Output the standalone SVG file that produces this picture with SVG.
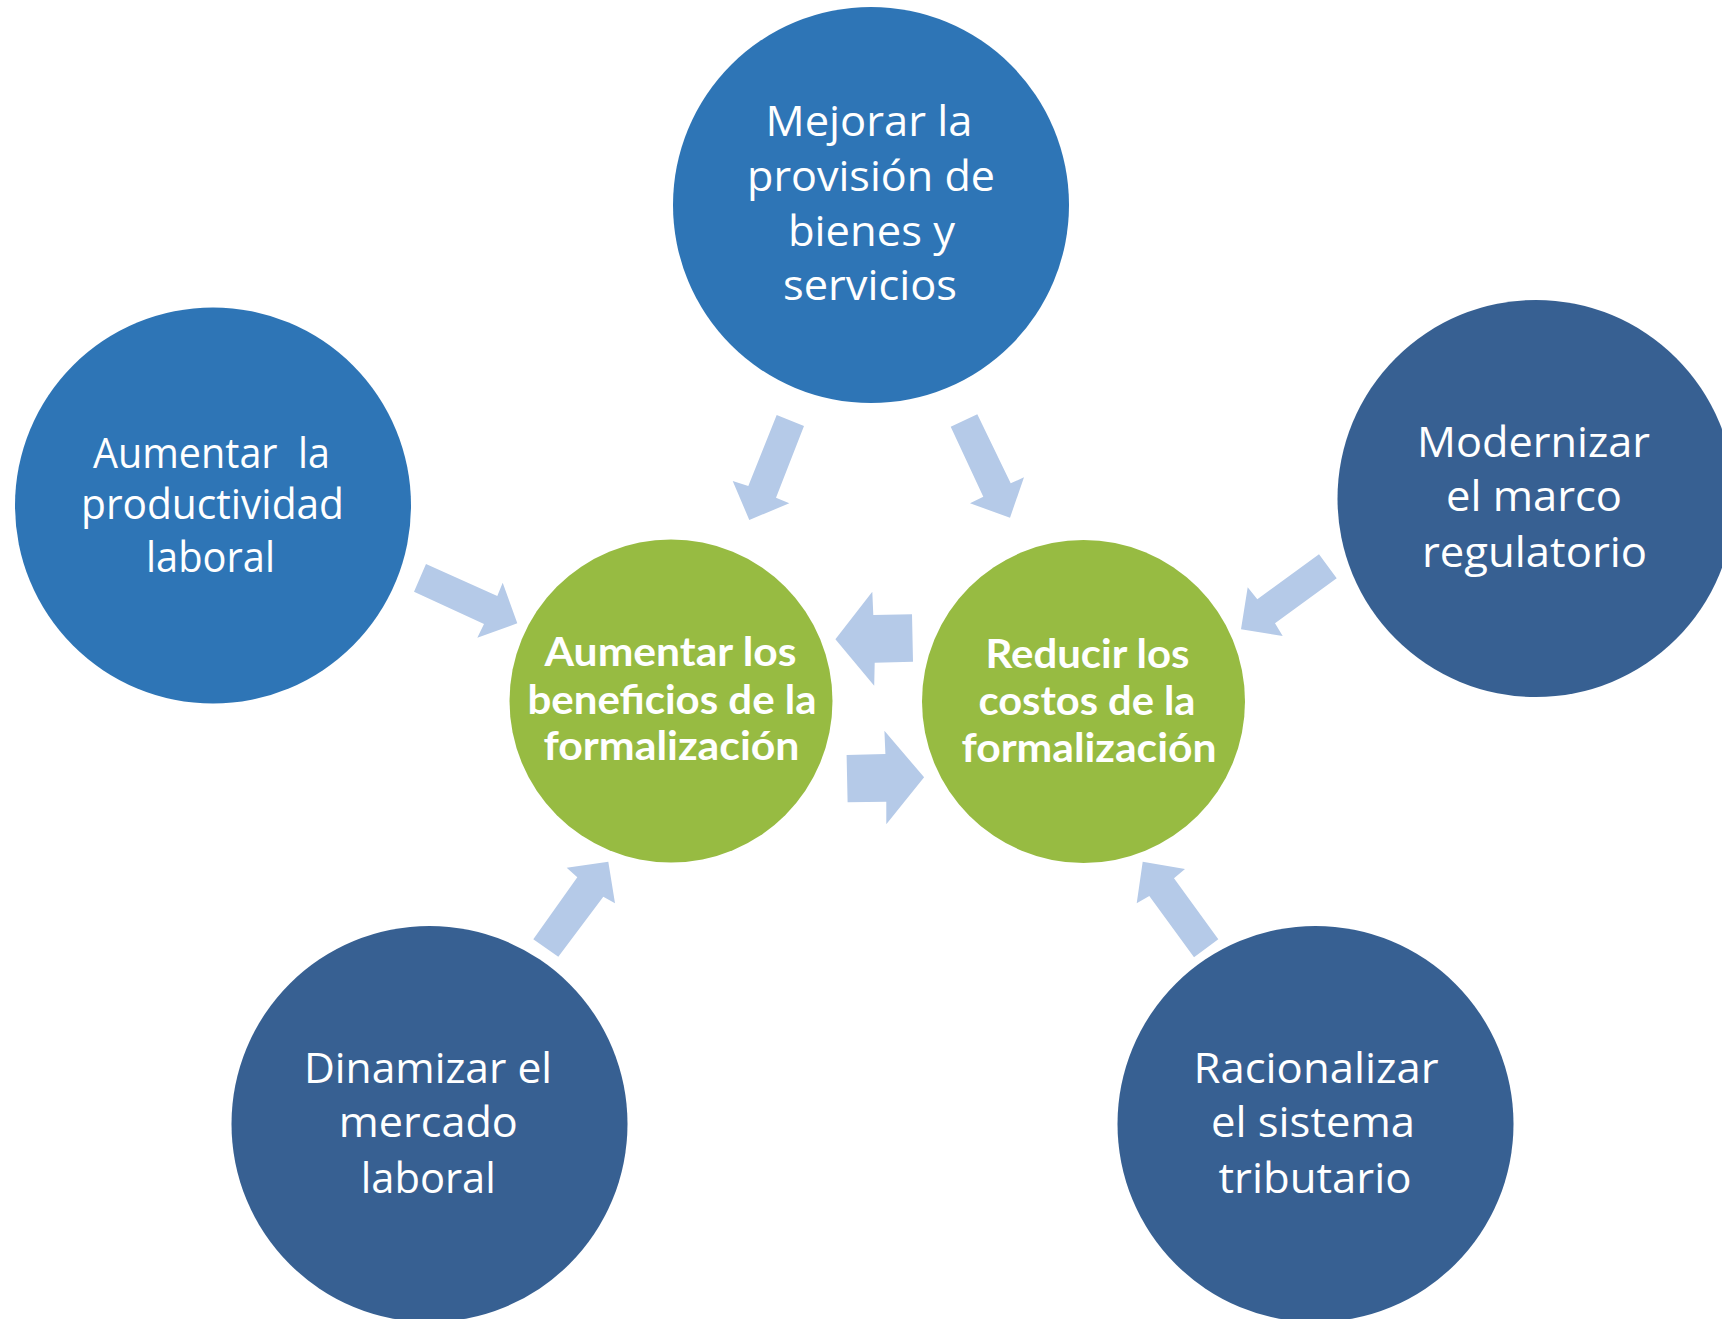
<svg xmlns="http://www.w3.org/2000/svg" width="1722" height="1319" viewBox="0 0 1722 1319">
<style>
.bg{fill:#ffffff}
.blue{fill:#2E75B6}
.dark{fill:#376092}
.green{fill:#97BB42}
.arrow{fill:#B5CAE8}
.t{font-family:"Open Sans","Liberation Sans",sans-serif;font-size:42px;fill:#ffffff;text-anchor:middle}
.b{font-family:Lato,"Liberation Sans",sans-serif;font-weight:bold;font-size:41px;fill:#ffffff;text-anchor:middle}
</style>
<rect class="bg" x="0" y="0" width="1722" height="1319"/>
<g id="connectors">
<polygon class="arrow" points="776.7,415 804,426 776,497.7 789.3,503.3 749.3,520 732.7,481 748.3,486"/>
<polygon class="arrow" points="950.7,426.7 977.3,414.3 1010.7,483.3 1024,477.3 1010,517.7 970,503.3 983.3,496.7"/>
<polygon class="arrow" points="426,564 414,591.7 484,624 477.3,637.7 517.3,623.3 502.7,582.7 497.3,596"/>
<polygon class="arrow" points="1319,554.3 1336.7,578.3 1275,623.3 1282.7,636 1241,629.3 1247.7,587.3 1257.3,599.3"/>
<polygon class="arrow" points="533.3,939.3 558.3,956.7 603.3,896.7 615,903.3 608.3,861.7 566.7,867.7 577.3,877.3"/>
<polygon class="arrow" points="1218.3,939.3 1194,957.3 1149.3,896 1136.7,903.3 1142.7,861.7 1185,869 1174,878.3"/>
<polygon class="arrow" points="835.4,639.3 872.3,591.7 873.3,615 912,614.3 913,661.7 874.7,662.7 874.2,685.7"/>
<polygon class="arrow" points="846.6,755 885.4,754 884.4,730.7 924.1,777.3 886.3,824.3 886.3,801.7 847.6,802.3"/>
</g>
<g id="node-provision">
<circle class="blue" cx="871" cy="205" r="198"/>
<text class="t" x="869" y="136" textLength="207" lengthAdjust="spacingAndGlyphs">Mejorar la</text>
<text class="t" x="871" y="191" textLength="248" lengthAdjust="spacingAndGlyphs">provisión de</text>
<text class="t" x="871.5" y="245.5" textLength="167" lengthAdjust="spacingAndGlyphs">bienes y</text>
<text class="t" x="870" y="300" textLength="174" lengthAdjust="spacingAndGlyphs">servicios</text>
</g>
<g id="node-productividad">
<circle class="blue" cx="213" cy="505.5" r="198"/>
<text class="t" x="211.5" y="468" textLength="237" lengthAdjust="spacingAndGlyphs" xml:space="preserve">Aumentar  la</text>
<text class="t" x="212.5" y="519" textLength="263" lengthAdjust="spacingAndGlyphs">productividad</text>
<text class="t" x="210.5" y="572" textLength="129" lengthAdjust="spacingAndGlyphs">laboral</text>
</g>
<g id="node-regulatorio">
<circle class="dark" cx="1536" cy="498.5" r="198.5"/>
<text class="t" x="1533.5" y="457" textLength="233" lengthAdjust="spacingAndGlyphs">Modernizar</text>
<text class="t" x="1534" y="511" textLength="176" lengthAdjust="spacingAndGlyphs">el marco</text>
<text class="t" x="1534.5" y="566.5" textLength="225" lengthAdjust="spacingAndGlyphs">regulatorio</text>
</g>
<g id="node-mercado">
<circle class="dark" cx="429.5" cy="1124" r="198"/>
<text class="t" x="428" y="1083" textLength="248" lengthAdjust="spacingAndGlyphs">Dinamizar el</text>
<text class="t" x="428.3" y="1137" textLength="179" lengthAdjust="spacingAndGlyphs">mercado</text>
<text class="t" x="428.3" y="1193" textLength="135" lengthAdjust="spacingAndGlyphs">laboral</text>
</g>
<g id="node-tributario">
<circle class="dark" cx="1315.5" cy="1124" r="198"/>
<text class="t" x="1316" y="1083" textLength="245" lengthAdjust="spacingAndGlyphs">Racionalizar</text>
<text class="t" x="1313" y="1137" textLength="204" lengthAdjust="spacingAndGlyphs">el sistema</text>
<text class="t" x="1315" y="1193" textLength="193" lengthAdjust="spacingAndGlyphs">tributario</text>
</g>
<g id="node-beneficios">
<circle class="green" cx="671" cy="701" r="161.5"/>
<text class="b" x="670.5" y="666" textLength="252" lengthAdjust="spacingAndGlyphs">Aumentar los</text>
<text class="b" x="672" y="714" textLength="289" lengthAdjust="spacingAndGlyphs">beneficios de la</text>
<text class="b" x="671.5" y="760" textLength="256" lengthAdjust="spacingAndGlyphs">formalización</text>
</g>
<g id="node-costos">
<circle class="green" cx="1083.5" cy="701.5" r="161.5"/>
<text class="b" x="1087.5" y="668" textLength="204" lengthAdjust="spacingAndGlyphs">Reducir los</text>
<text class="b" x="1087" y="715" textLength="217" lengthAdjust="spacingAndGlyphs">costos de la</text>
<text class="b" x="1089" y="762" textLength="255" lengthAdjust="spacingAndGlyphs">formalización</text>
</g>
</svg>
